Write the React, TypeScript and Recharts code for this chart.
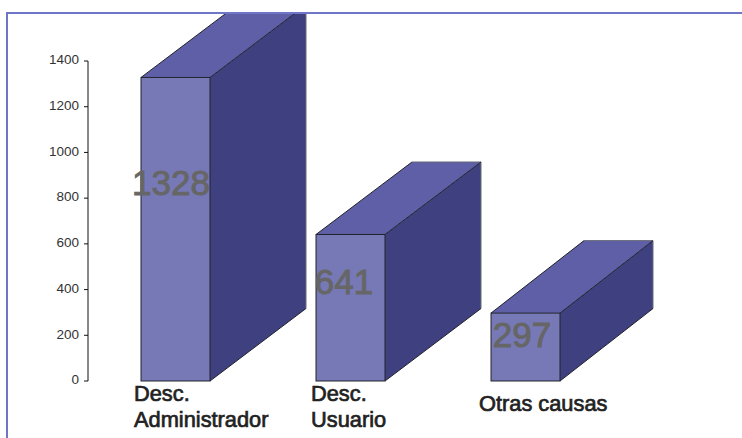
import React from "react";
import { BarChart, Bar, XAxis, YAxis, LabelList } from "recharts";

const categories = ["Desc. Administrador", "Desc. Usuario", "Otras causas"];
const values = [1328, 641, 297];
const yTicks = [0, 200, 400, 600, 800, 1000, 1200, 1400];

const categoryLines = [["Desc.", "Administrador"], ["Desc.", "Usuario"], ["Otras causas"]];
const categoryShiftX = [-41.5, -39.5, -46.5];
const categoryFirstBaseline = [401, 401, 411];
const depthX = [96, 96, 93];
const depthY = 72.5;
const labelShiftX = [-4.5, -6.5, -3.5];
const labelShiftY = [-1, -4, -2];

const data = categories.map((name, i) => ({ name, value: values[i] }));

const FONT = "'Liberation Sans', Arial, sans-serif";
const FRONT = "#7779b7";
const TOP = "#5e5fa7";
const SIDE = "#3f407f";
const EDGE = "#22222c";
const BACK = "#6a6a78";

function Box(props: any) {
  const { x, y, width, height, index } = props;
  const dx = depthX[index];
  const r = x + width;
  const b = y + height;
  return (
    <g>
      <polygon points={`${x},${y} ${r},${y} ${r + dx},${y - depthY} ${x + dx},${y - depthY}`} fill={TOP} />
      <polygon points={`${r},${y} ${r + dx},${y - depthY} ${r + dx},${b - depthY} ${r},${b}`} fill={SIDE} />
      <rect x={x} y={y} width={width} height={height} fill={FRONT} stroke={EDGE} strokeWidth={1} />
      <path d={`M${x + dx},${y - depthY}H${r + dx}V${b - depthY}`} fill="none" stroke={BACK} strokeWidth={1} />
      <path d={`M${x},${y}L${x + dx},${y - depthY}M${r},${y}L${r + dx},${y - depthY}M${r},${b}L${r + dx},${b - depthY}`} fill="none" stroke={EDGE} strokeWidth={1} />
    </g>
  );
}

function CategoryTick(props: any) {
  const { x, index } = props;
  return (
    <g>
      {categoryLines[index].map((line: string, i: number) => (
        <text
          key={i}
          x={x + categoryShiftX[index]}
          y={categoryFirstBaseline[index] + i * 26}
          fontFamily={FONT}
          fontSize={21.8}
          fill="#222222"
          stroke="#222222"
          strokeWidth={0.7}
        >
          {line}
        </text>
      ))}
    </g>
  );
}

function ValueLabel(props: any) {
  const { x, y, width, height, value, index } = props;
  return (
    <text
      x={x + width / 2 + labelShiftX[index]}
      y={y + height * 0.35 + labelShiftY[index]}
      textAnchor="middle"
      dominantBaseline="central"
      fontFamily={FONT}
      fontSize={35}
      fill="#666666"
      stroke="#666666"
      strokeWidth={1}
    >
      {value}
    </text>
  );
}

export default function App() {
  return (
    <div style={{ position: "absolute", left: 0, top: 0, width: 742, height: 438, overflow: "hidden", background: "#fff" }}>
      <div
        style={{
          position: "absolute",
          left: 6,
          top: 12,
          width: 736,
          height: 426,
          boxSizing: "border-box",
          borderLeft: "2px solid #6f76c8",
          borderTop: "2px solid #6f76c8",
          overflow: "hidden",
        }}
      >
        <div style={{ position: "absolute", left: -8, top: -14 }}>
          <BarChart
            width={742}
            height={438}
            data={data}
            margin={{ top: 61, right: 129, bottom: 7, left: 38 }}
            barCategoryGap={53}
          >
            <XAxis dataKey="name" height={50} axisLine={false} tickLine={false} interval={0} tick={<CategoryTick />} />
            <YAxis
              width={50}
              domain={[0, 1400]}
              ticks={yTicks}
              interval={0}
              axisLine={{ stroke: "#111111", strokeWidth: 1 }}
              tickLine={{ stroke: "#111111", strokeWidth: 1 }}
              tickSize={4}
              tickMargin={5}
              tick={{ fontFamily: FONT, fontSize: 13.5, fill: "#333333", dy: -1.5 }}
            />
            <Bar dataKey="value" isAnimationActive={false} shape={<Box />}>
              <LabelList dataKey="value" content={<ValueLabel />} />
            </Bar>
          </BarChart>
        </div>
      </div>
    </div>
  );
}
